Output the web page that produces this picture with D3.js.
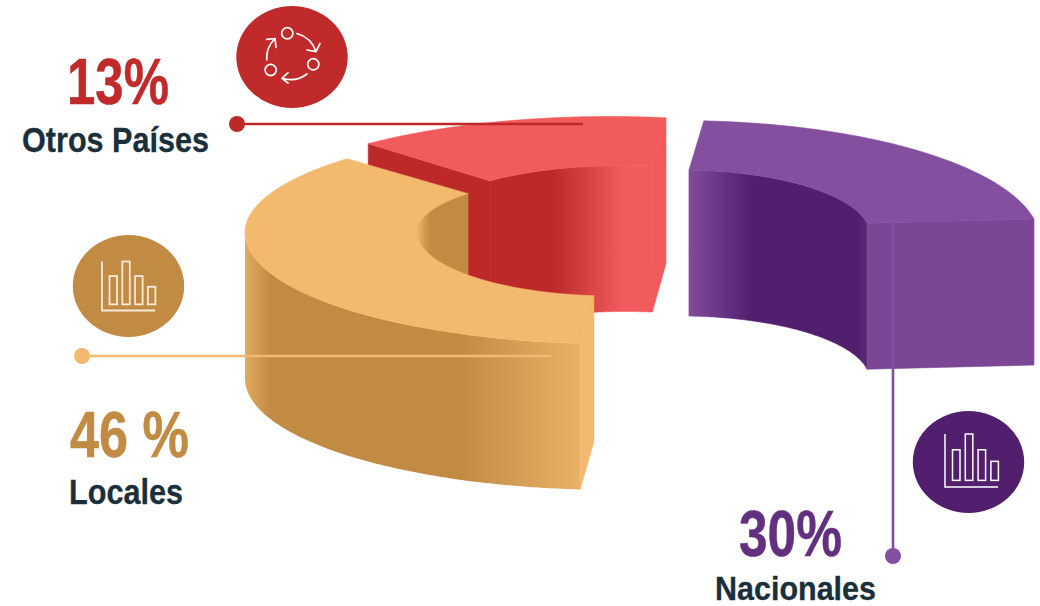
<!DOCTYPE html>
<html lang="es">
<head>
<meta charset="utf-8">
<title>Distribución</title>
<script src="https://cdn.jsdelivr.net/npm/d3@7"></script>
<style>html,body{margin:0;padding:0;background:#fff}svg{display:block}</style>
</head>
<body>
<svg id="chart" width="1040" height="606" viewBox="0 0 1040 606"></svg>
<script>
// ---- data ----
const categories = ["Nacionales", "Otros Países", "Locales"];
const values = [30, 13, 46];
const valueLabels = ["30%", "13%", "46 %"];
const iconBarHeights = [0.66, 1, 0.66, 0.41];

// ---- pseudo-3D geometry of the exploded ring (angles in degrees on each ellipse) ----
const DEPTH = 146;
const N = 90;
const rings = {
  "Nacionales": {
    outer: {cx:680, cy:241, a:360, bT:120.4, bB:120.4, t0:273.8, t1:349.5},
    inner: {cx:680, cy:234.4, a:190, bT:64.4, bB:64.4, t0:272.7, t1:350},
    top:"#844f9f", endFace:"#7b4795", innerWall:"gPurple", innerFrom:0, innerTo:1
  },
  "Otros Países": {
    outer: {cx:610, cy:228.5, a:370, bT:112, bB:112, t0:229.2, t1:278.7},
    inner: {cx:625, cy:221.5, a:196, bT:56, bB:56, t0:226.5, t1:278},
    top:"#f15b5b", endFace:"#f15b5b", startFace:"#bd2828", innerWall:"gRed", innerFrom:0, innerTo:1
  },
  "Locales": {
    outer: {cx:615, cy:232.5, a:370, bT:107, bB:111.5, t0:95.4, t1:223.6},
    inner: {cx:613, cy:232, a:196, bT:57, bB:64, t0:95.6, t1:222.3},
    top:"#f3b96f", endFace:"#f3b96f", innerWall:"gTanIn", innerFrom:0.666, innerTo:1,
    outerWall:"gTanOut", outerTo:0.66
  }
};
const styles = {
  "Otros Países": {text:"#c12a2a", dot:"#bd2828", line:"#bd2828"},
  "Locales": {text:"#c28b43", dot:"#f3b96f", line:"#f3b96f"},
  "Nacionales": {text:"#63307f", dot:"#844f9f", line:"#844f9f"}
};

const svg = d3.select("#chart");
const defs = svg.append("defs");
function grad(id, stops) {
  const g = defs.append("linearGradient").attr("id", id)
    .attr("gradientUnits", "userSpaceOnUse")
    .attr("x1", stops[0][0]).attr("x2", stops[stops.length-1][0]).attr("y1", 0).attr("y2", 0);
  const s = d3.scaleLinear().domain([stops[0][0], stops[stops.length-1][0]]).range([0, 1]);
  stops.forEach(d => g.append("stop").attr("offset", s(d[0])).attr("stop-color", d[1]));
}
grad("gPurple", [[689,"#7f4b9a"],[752,"#521f6e"],[858,"#521f6e"],[868,"#5d2b7b"]]);
grad("gRed", [[553,"#bd2828"],[622,"#f15b5b"]]);
grad("gTanIn", [[416,"#f0b66c"],[430,"#c28b43"]]);
grad("gTanOut", [[245,"#e2aa61"],[270,"#c28b43"],[460,"#c28b43"],[580,"#e9b068"]]);

const line = d3.line().x(d => d[0]).y(d => d[1]);
const pt = (e, deg, dy = 0) => {
  const t = deg * Math.PI / 180, s = Math.sin(t);
  return [e.cx + e.a * Math.cos(t), e.cy + (s < 0 ? e.bT : e.bB) * s + dy];
};
// sample an arc by walking the wedge's value through an angle scale
function arc(e, value, from = 0, to = 1, dy = 0) {
  const ang = d3.scaleLinear().domain([0, value]).range([e.t0, e.t1]);
  return d3.range(N + 1).map(i => pt(e, ang(value * (from + (to - from) * i / N)), dy));
}
const poly = pts => line(pts) + "Z";
const extrude = a => a.concat(a.map(p => [p[0], p[1] + DEPTH]).reverse());
const solid = (sel, c) => sel.attr("fill", c).attr("stroke", c).attr("stroke-width", 0.6);

const g = svg.append("g");
categories.forEach((name, i) => {
  const r = rings[name], v = values[i];
  const wedge = g.append("g").attr("class", "wedge").datum({name, value: v});
  const oArc = arc(r.outer, v), iArc = arc(r.inner, v);
  const o0 = oArc[0], o1 = oArc[N], i0 = iArc[0], i1 = iArc[N];
  if (r.startFace) {
    solid(wedge.append("path").attr("d", poly(extrude([o0, i0]))), r.startFace);
  }
  solid(wedge.append("path").attr("d", poly(extrude(arc(r.inner, v, r.innerFrom, r.innerTo)))),
    `url(#${r.innerWall})`);
  if (r.outerWall) {
    wedge.append("path").attr("d", poly(extrude(arc(r.outer, v, 0, r.outerTo))))
      .attr("fill", `url(#${r.outerWall})`);
    // near cut face of the tan wedge sits at its t0 end
    solid(wedge.append("path").attr("d", poly(extrude([o0, i0]))), r.endFace);
  } else {
    solid(wedge.append("path").attr("d", poly(extrude([o1, i1]))), r.endFace);
  }
  solid(wedge.append("path").attr("d", poly(oArc.concat(iArc.slice().reverse()))), r.top);
});

// ---- leader lines ----
const leaders = [
  {name:"Otros Países", x1:237, y1:124, x2:583, y2:124},
  {name:"Locales", x1:82, y1:356, x2:551, y2:356},
  {name:"Nacionales", x1:893, y1:222, x2:893, y2:556}
];
leaders.forEach(l => {
  svg.append("line").attr("x1", l.x1).attr("y1", l.y1).attr("x2", l.x2).attr("y2", l.y2)
    .attr("stroke", styles[l.name].line).attr("stroke-width", 2.6);
  const dx = l.name === "Nacionales" ? l.x2 : l.x1, dy = l.name === "Nacionales" ? l.y2 : l.y1;
  svg.append("circle").attr("cx", dx).attr("cy", dy).attr("r", 8).attr("fill", styles[l.name].dot);
});

// ---- text ----
function label(txt, x0, x1, base, size, fill, family, sw) {
  svg.append("text").attr("x", x0).attr("y", base).text(txt)
    .attr("font-family", family).attr("font-weight", 700).attr("font-size", size)
    .attr("fill", fill).attr("stroke", fill).attr("stroke-width", sw)
    .attr("textLength", x1 - x0).attr("lengthAdjust", "spacingAndGlyphs");
}
const NARROW = "'Liberation Sans Narrow', 'Liberation Sans', Arial, sans-serif";
const SANS = "'Liberation Sans', Arial, sans-serif";
const textPos = {
  "Otros Países": {v:[67,169,103.5], n:[22,209,152], ns:35.5},
  "Locales": {v:[70,189,457], n:[69,183,504], ns:35.5},
  "Nacionales": {v:[739,842,556], n:[715,876,599.5], ns:33}
};
categories.forEach((name, i) => {
  const p = textPos[name];
  label(valueLabels[i], p.v[0], p.v[1], p.v[2], 64, styles[name].text, NARROW, 0.5);
  label(name, p.n[0], p.n[1], p.n[2], p.ns, "#1a2f3a", SANS, 0.3);
});

// ---- icons ----
function badge(cx, cy, fill) {
  svg.append("ellipse").attr("cx", cx).attr("cy", cy).attr("rx", 55.7).attr("ry", 51).attr("fill", fill);
}
function barIcon(ox, oy, h, stroke, sw) {
  const gi = svg.append("g").attr("fill", "none").attr("stroke", stroke).attr("stroke-width", sw)
    .attr("transform", `translate(${ox},${oy})`);
  gi.append("path").attr("d", `M0,${-h}V0H53`);
  const x = d3.scaleLinear().domain([0, 1]).range([7.5, 20.3]);
  const y = d3.scaleLinear().domain([0, 1]).range([-h * 0.125, -h]);
  gi.selectAll("rect").data(iconBarHeights).join("rect")
    .attr("x", (d, i) => x(i)).attr("width", 7.5)
    .attr("y", d => y(d)).attr("height", d => y(0) - y(d));
}
badge(292, 57, "#c12a2a");
badge(128.5, 286, "#c28b43");
badge(968.5, 462, "#521f6e");
barIcon(102, 310.5, 49, "#f6ead9", 1.8);
barIcon(945, 487, 53, "#ffffff", 1.5);

const cyc = svg.append("g").attr("fill", "none").attr("stroke", "#fff").attr("stroke-width", 1.7)
  .attr("stroke-linecap", "round").attr("stroke-linejoin", "round");
[[287.3,33.3],[313.3,64.3],[270.7,70]].forEach(c =>
  cyc.append("circle").attr("cx", c[0]).attr("cy", c[1]).attr("r", 5.6));
cyc.append("path").attr("d", "M297,33.5A28,28 0 0 1 316,51.7M307,50L316,51.7L320,43.5");
cyc.append("path").attr("d", "M307,74A28,28 0 0 1 282,78.3M288,72.7L282,78.3L288,83");
cyc.append("path").attr("d", "M266.7,60A28,28 0 0 1 275,38.5M266.7,39.3L275,38.5L276,47.3");
</script>
</body>
</html>
